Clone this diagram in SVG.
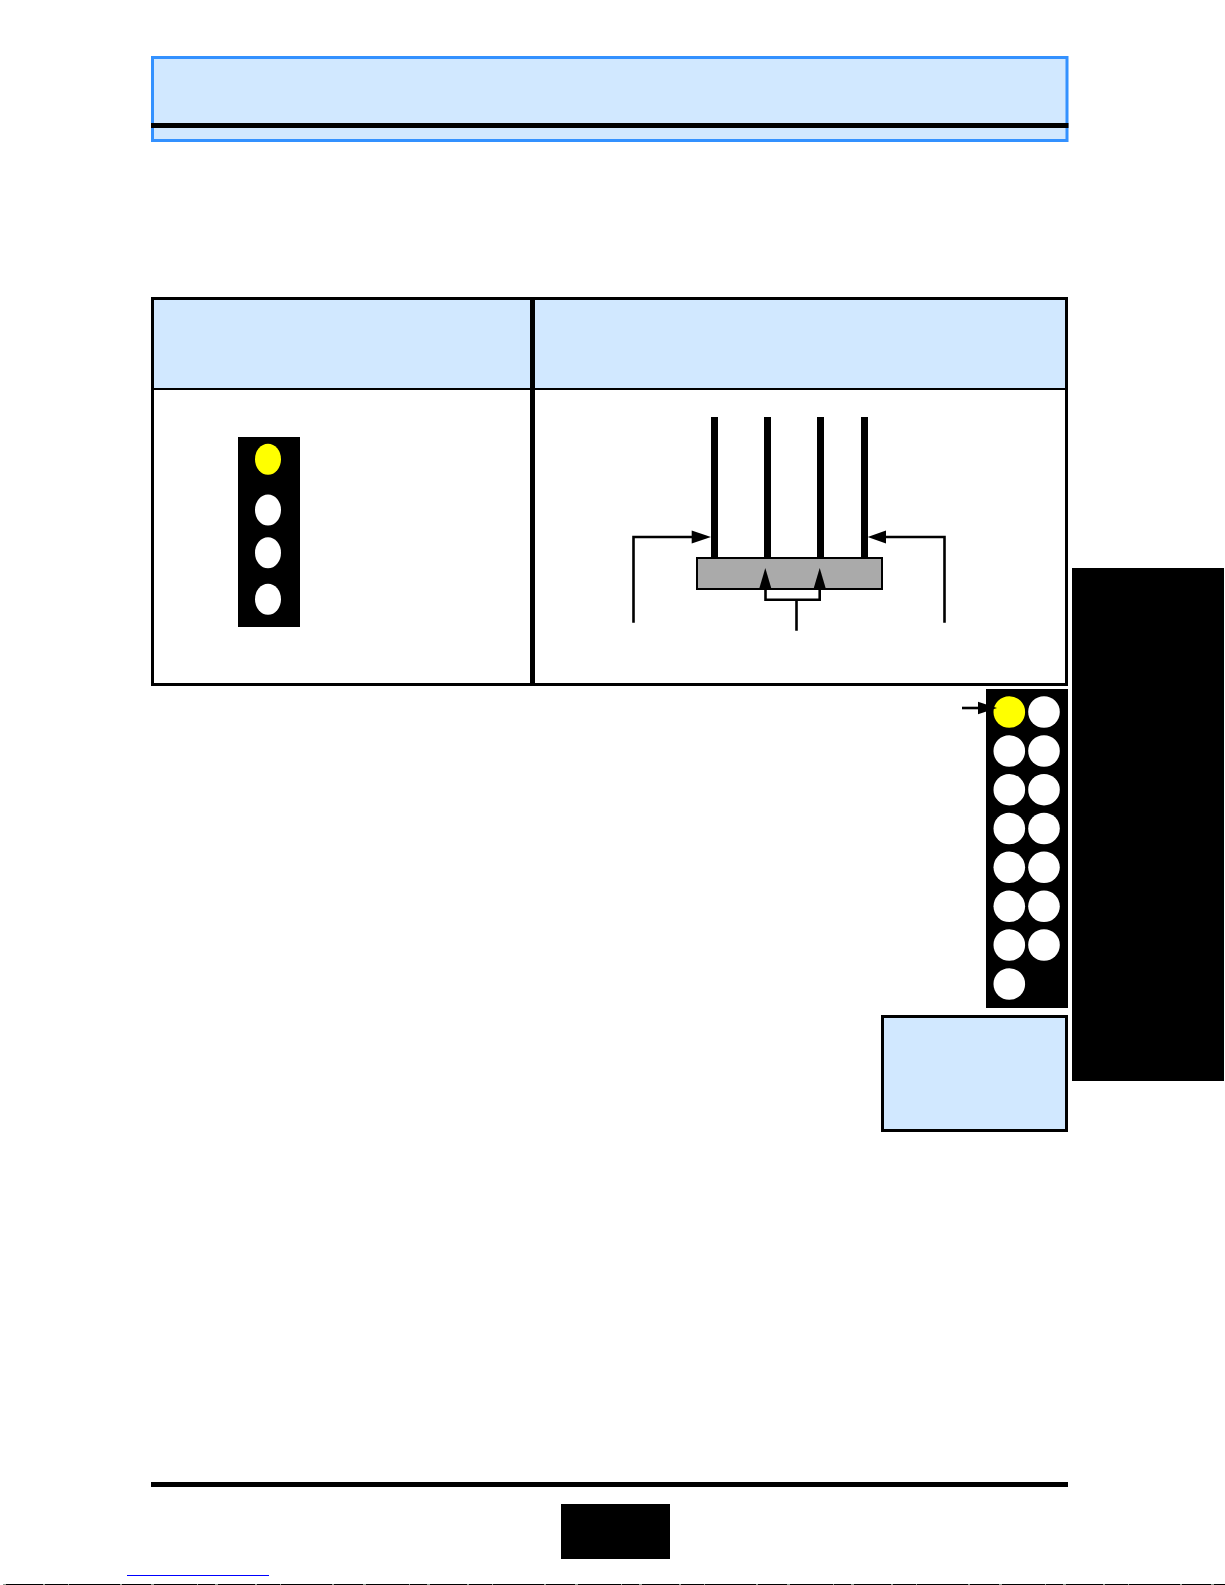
<svg xmlns="http://www.w3.org/2000/svg" width="1225" height="1585" viewBox="0 0 1225 1585">
<style>
.panel{fill:#d1e8ff;stroke:#000;stroke-width:3}
.blk{fill:#000}
.pin{fill:#fff}
.on{fill:#ff0}
.ln{fill:none;stroke:#000;stroke-width:2.600}
.head{fill:#000}
</style>
<rect width="1225" height="1585" fill="#fff"/>
<g id="header">
<rect x="152.500" y="57.500" width="914.500" height="83" fill="#d1e8ff" stroke="#3391ff" stroke-width="3"/>
<rect class="blk" x="151" y="123" width="917.500" height="5"/>
</g>
<g id="table">
<rect x="154" y="300" width="913" height="88" fill="#d1e8ff"/>
<rect x="152.500" y="298.500" width="914" height="386" fill="none" stroke="#000" stroke-width="3"/>
<rect class="blk" x="152" y="388" width="914" height="2"/>
<rect class="blk" x="530" y="298" width="5" height="387"/>
</g>
<g id="connector-4pin">
<rect class="blk" x="238" y="437" width="62" height="190"/>
<ellipse class="on" cx="268" cy="459.300" rx="13" ry="15.500"/>
<ellipse class="pin" cx="268" cy="510" rx="13" ry="15.500"/>
<ellipse class="pin" cx="268" cy="552.700" rx="13" ry="15.500"/>
<ellipse class="pin" cx="268" cy="599.300" rx="13" ry="15.500"/>
</g>
<g id="plug">
<rect class="blk" x="711" y="417" width="7" height="141"/>
<rect class="blk" x="764" y="417" width="7" height="141"/>
<rect class="blk" x="817" y="417" width="7" height="141"/>
<rect class="blk" x="861" y="417" width="7" height="141"/>
<rect x="697" y="558" width="185" height="31" fill="#aaa" stroke="#000" stroke-width="2"/>
</g>
<g id="connectors">
<path class="ln" d="M633.500 622.700V537H695"/>
<polygon class="head" points="711,537 691.700,530.500 691.700,543.500"/>
<path class="ln" d="M944.500 622.700V537H884"/>
<polygon class="head" points="867.700,537 886,530.500 886,543.500"/>
<path class="ln" d="M765.500 589V599.700H819.700V589M796.500 599.700V630.700"/>
<polygon class="head" points="765.300,568 758.800,590 771.800,590"/>
<polygon class="head" points="819.700,568 813.200,590 826.200,590"/>
</g>
<g id="connector-15pin">
<rect class="blk" x="986" y="689" width="82" height="319"/>
<circle class="on" cx="1009.300" cy="712" r="15.800"/>
<circle class="pin" cx="1044" cy="712" r="15.800"/>
<circle class="pin" cx="1009.300" cy="751" r="15.800"/>
<circle class="pin" cx="1044" cy="751" r="15.800"/>
<circle class="pin" cx="1009.300" cy="789.700" r="15.800"/>
<circle class="pin" cx="1044" cy="789.700" r="15.800"/>
<circle class="pin" cx="1009.300" cy="828.500" r="15.800"/>
<circle class="pin" cx="1044" cy="828.500" r="15.800"/>
<circle class="pin" cx="1009.300" cy="867.300" r="15.800"/>
<circle class="pin" cx="1044" cy="867.300" r="15.800"/>
<circle class="pin" cx="1009.300" cy="906.300" r="15.800"/>
<circle class="pin" cx="1044" cy="906.300" r="15.800"/>
<circle class="pin" cx="1009.300" cy="945" r="15.800"/>
<circle class="pin" cx="1044" cy="945" r="15.800"/>
<circle class="pin" cx="1009.300" cy="984" r="15.800"/>
</g>
<g id="pin1-arrow">
<path class="ln" d="M962 708H980"/>
<polygon class="head" points="997,708 978,701.700 978,714.300"/>
</g>
<g id="side-tab"><rect class="blk" x="1072" y="568" width="152" height="513"/></g>
<g id="note"><rect class="panel" x="882.500" y="1016.500" width="184" height="114"/></g>
<g id="footer">
<rect class="blk" x="151" y="1482" width="917" height="5"/>
<rect class="blk" x="561" y="1504" width="109" height="55"/>
<rect x="127" y="1575" width="142" height="1" fill="#00f"/>
<rect class="blk" x="3" y="1584" width="1222" height="1"/>
<path d="M3 1584.500H1225" stroke="#8a9a8e" stroke-width="1" stroke-dasharray="3 37 2 23 1 51 2 29 3 43 1 17" fill="none"/>
</g>
</svg>
